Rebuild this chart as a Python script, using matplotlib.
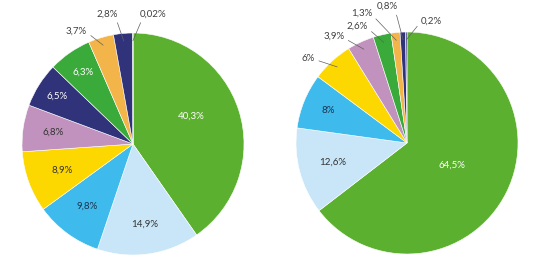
import numpy as np
import matplotlib.pyplot as plt

plt.rcParams['font.family'] = ['Lato', 'DejaVu Sans']

# data
left_values = [40.3, 14.9, 9.8, 8.9, 6.8, 6.5, 6.3, 3.7, 2.8, 0.02]
left_labels = ["40,3%", "14,9%", "9,8%", "8,9%", "6,8%", "6,5%", "6,3%", "3,7%", "2,8%", "0,02%"]
right_values = [64.5, 12.6, 8, 6, 3.9, 2.6, 1.3, 0.8, 0.2]
right_labels = ["64,5%", "12,6%", "8%", "6%", "3,9%", "2,6%", "1,3%", "0,8%", "0,2%"]

green = "#5cb030"
light_blue = "#c8e6f8"
sky = "#3ebbec"
yellow = "#fcd800"
mauve = "#c192bd"
navy = "#30327a"
dgreen = "#3aab3a"
orange = "#f3b54a"

left_colors = [green, light_blue, sky, yellow, mauve, navy, dgreen, orange, navy, green]
right_colors = [green, light_blue, sky, yellow, mauve, dgreen, orange, navy, navy]

# label placement: inside (radius fraction) or outside (x, y, relpos)
left_inside = {0: (0.58, "white", 8), 1: (0.73, "#333333", 0), 2: (0.70, "#1d3150", 0),
               3: (0.68, "#333333", 0), 4: (0.73, "#333333", 0), 5: (0.81, "white", 0),
               6: (0.79, "white", 0)}
left_outside = {7: (-0.51, 1.02, (1, 0.3)), 8: (-0.23, 1.17, (0.9, 0)), 9: (0.18, 1.17, (0.1, 0))}
right_inside = {0: (0.45, "white", 0), 1: (0.69, "#333333", 0), 2: (0.77, "#1d3150", 0)}
right_outside = {3: (-0.89, 0.76, (1, 0.4)), 4: (-0.66, 0.96, (1, 0.3)), 5: (-0.45, 1.05, (1, 0.3)),
                 6: (-0.41, 1.17, (1, 0.3)), 7: (-0.18, 1.23, (0.9, 0)), 8: (0.22, 1.10, (0, 0.4))}

fig = plt.figure(figsize=(5.33, 2.61), dpi=100)


def draw(rect, values, labels, colors, inside, outside):
    ax = fig.add_axes(rect)
    ax.pie(values, colors=colors, startangle=90, counterclock=False, radius=1,
           wedgeprops=dict(edgecolor="white", linewidth=0.4))
    ax.set_xlim(-1, 1)
    ax.set_ylim(-1, 1)
    ax.set_aspect("equal")
    ax.axis("off")
    total = sum(values)
    cum = np.cumsum([0] + values[:-1])
    mids = 90 - 360 * (cum + np.array(values) / 2) / total
    for i, lab in enumerate(labels):
        a = np.deg2rad(mids[i])
        if i in inside:
            r, col, rot = inside[i]
            if i == 0 and len(values) == 10:
                a = np.deg2rad(mids[i] + 8)
            ax.text(r * np.cos(a), r * np.sin(a), lab, ha="center", va="center",
                    fontsize=7, color=col, clip_on=False)
        else:
            tx, ty, rel = outside[i]
            ax.annotate(lab, xy=(0.93 * np.cos(a), 0.93 * np.sin(a)), xytext=(tx, ty),
                        ha="center", va="center", fontsize=7, color="#404040",
                        annotation_clip=False,
                        arrowprops=dict(arrowstyle="-", color="#606060", lw=0.5,
                                        relpos=rel, shrinkA=1, shrinkB=0))


draw([(133 - 111) / 533, (117 - 111) / 261, 222 / 533, 222 / 261],
     left_values, left_labels, left_colors, left_inside, left_outside)
draw([(407 - 111) / 533, (118 - 111) / 261, 222 / 533, 222 / 261],
     right_values, right_labels, right_colors, right_inside, right_outside)

fig.savefig("out.png", dpi=100)
